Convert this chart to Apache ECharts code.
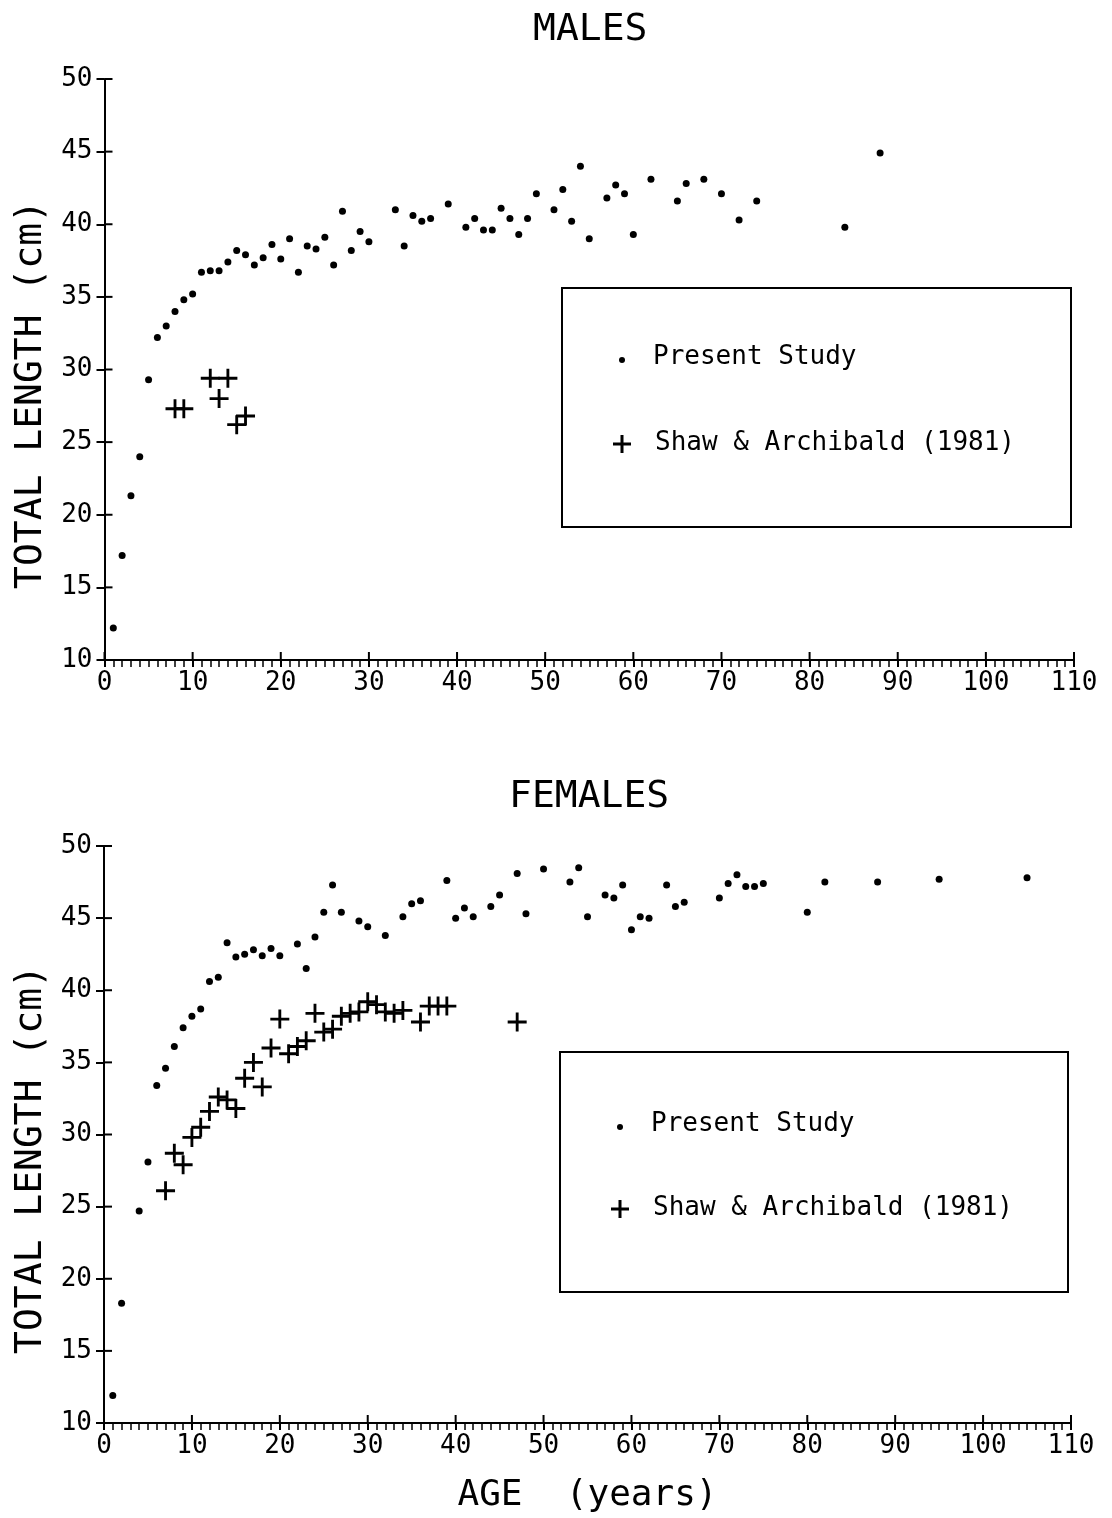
<!DOCTYPE html>
<html>
<head>
<meta charset="utf-8">
<script src="https://cdn.jsdelivr.net/npm/echarts@6/dist/echarts.min.js"></script>
<style>
html,body{margin:0;padding:0;background:#fff;}
#c{width:1112px;height:1518px;}
</style>
</head>
<body>
<div id="c"></div>
<script>
// ---- DATA (age in years, total length in cm) ----
var malesPresentAge = [1,2,3,4,5,6,7,8,9,10,11,12,13,14,15,16,17,18,19,20,21,22,23,24,25,26,27,28,29,30,33,34,35,36,37,39,41,42,43,44,45,46,47,48,49,51,52,53,54,55,57,58,59,60,62,65,66,68,70,72,74,84,88];
var malesPresentLen = [12.2,17.2,21.3,24.0,29.3,32.2,33.0,34.0,34.8,35.2,36.7,36.8,36.8,37.4,38.2,37.9,37.2,37.7,38.6,37.6,39.0,36.7,38.5,38.3,39.1,37.2,40.9,38.2,39.5,38.8,41.0,38.5,40.6,40.2,40.4,41.4,39.8,40.4,39.6,39.6,41.1,40.4,39.3,40.4,42.1,41.0,42.4,40.2,44.0,39.0,41.8,42.7,42.1,39.3,43.1,41.6,42.8,43.1,42.1,40.3,41.6,39.8,44.9];
var malesShawAge = [8,9,12,13,14,15,16];
var malesShawLen = [27.3,27.3,29.4,28.0,29.4,26.2,26.8];

var femalesPresentAge = [1,2,4,5,6,7,8,9,10,11,12,13,14,15,16,17,18,19,20,22,23,24,25,26,27,29,30,32,34,35,36,39,40,41,42,44,45,47,48,50,53,54,55,57,58,59,60,61,62,64,65,66,70,71,72,73,74,75,80,82,88,95,105];
var femalesPresentLen = [11.9,18.3,24.7,28.1,33.4,34.6,36.1,37.4,38.2,38.7,40.6,40.9,43.3,42.3,42.5,42.8,42.4,42.9,42.4,43.2,41.5,43.7,45.4,47.3,45.4,44.8,44.4,43.8,45.1,46.0,46.2,47.6,45.0,45.7,45.1,45.8,46.6,48.1,45.3,48.4,47.5,48.5,45.1,46.6,46.4,47.3,44.2,45.1,45.0,47.3,45.8,46.1,46.4,47.4,48.0,47.2,47.2,47.4,45.4,47.5,47.5,47.7,47.8];
var femalesShawAge = [7,8,9,10,11,12,13,14,15,16,17,18,19,20,21,22,23,24,25,26,27,28,29,30,31,32,33,34,36,37,38,39,47];
var femalesShawLen = [26.1,28.7,27.9,29.8,30.5,31.6,32.6,32.4,31.8,33.9,35.0,33.3,36.0,38.0,35.6,36.1,36.5,38.4,37.1,37.3,38.2,38.4,38.5,39.2,39.0,38.5,38.4,38.6,37.8,38.9,38.9,38.9,37.8];

// major tick values (ticks cross the axis lines in the original)
var xTickValues = [0,10,20,30,40,50,60,70,80,90,100,110];
var yTickValues = [10,15,20,25,30,35,40,45,50];

var panelTitles = ['MALES', 'FEMALES'];
var seriesNames = ['Present Study', 'Shaw & Archibald (1981)'];
var xAxisName = 'AGE  (years)';
var yAxisName = 'TOTAL LENGTH (cm)';

function pairs(a, b) { return a.map(function (v, i) { return [v, b[i]]; }); }

var FONT = 'DejaVu Sans Mono';
var PLUS = 'path://M8.5,0 H11.5 V8.5 H20 V11.5 H11.5 V20 H8.5 V11.5 H0 V8.5 H8.5 Z';
var X_MIN = 0, X_MAX = 110, Y_MIN = 10, Y_MAX = 50;

var grids = [
  {left: 104.5, top: 79, width: 969.5, height: 581},
  {left: 104, top: 846, width: 967, height: 577}
];

function mainX(g, showName) {
  return {
    gridIndex: g, type: 'value', min: X_MIN, max: X_MAX, interval: 10, position: 'bottom',
    name: showName ? xAxisName : '', nameLocation: 'middle', nameGap: 55,
    nameTextStyle: {fontFamily: FONT, fontSize: 36, color: '#000'},
    axisLine: {show: true, onZero: false, lineStyle: {color: '#000', width: 2}},
    axisTick: {show: true, inside: false, length: 7, lineStyle: {color: '#000', width: 2}},
    minorTick: {show: true, splitNumber: 10, length: 7, lineStyle: {color: '#000', width: 1.5}},
    splitLine: {show: false}, minorSplitLine: {show: false},
    axisLabel: {fontFamily: FONT, fontSize: 26, color: '#000', margin: 10}
  };
}
function mainY(g) {
  return {
    gridIndex: g, type: 'value', min: Y_MIN, max: Y_MAX, interval: 5, position: 'left',
    name: yAxisName, nameLocation: 'middle', nameGap: 41, nameRotate: 90,
    nameTextStyle: {fontFamily: FONT, fontSize: 38, color: '#000', padding: [0, 50, 0, 0]},
    axisLine: {show: true, onZero: false, lineStyle: {color: '#000', width: 2}},
    axisTick: {show: true, inside: false, length: 8, lineStyle: {color: '#000', width: 2}},
    splitLine: {show: false},
    axisLabel: {fontFamily: FONT, fontSize: 26, color: '#000', margin: 12}
  };
}

function dots(g, data) {
  return {type: 'scatter', name: seriesNames[0], xAxisIndex: g, yAxisIndex: g,
    data: data, symbol: 'circle', symbolSize: 7, itemStyle: {color: '#000', opacity: 1}, silent: true};
}
function crosses(g, data) {
  return {type: 'scatter', name: seriesNames[1], xAxisIndex: g, yAxisIndex: g,
    data: data, symbol: PLUS, symbolSize: 19, itemStyle: {color: '#000', opacity: 1}, silent: true};
}
// inner halves of the major ticks, placed through the axes' own scales
function innerTicks(g, isX) {
  var data = isX ? xTickValues.map(function (v) { return [v, Y_MIN]; })
                 : yTickValues.map(function (v) { return [X_MIN, v]; });
  return {
    type: 'custom', xAxisIndex: g, yAxisIndex: g, silent: true, clip: false, z: 3,
    data: data,
    renderItem: function (params, api) {
      var p = api.coord([api.value(0), api.value(1)]);
      var shape = isX ? {x1: p[0], y1: p[1], x2: p[0], y2: p[1] - 8}
                      : {x1: p[0], y1: p[1], x2: p[0] + 8, y2: p[1]};
      return {type: 'line', shape: shape, style: {stroke: '#000', lineWidth: 2}};
    }
  };
}

function plusPoints(cx, cy) {
  var a = 9, t = 1.5;
  return [[cx - t, cy - a], [cx + t, cy - a], [cx + t, cy - t], [cx + a, cy - t], [cx + a, cy + t],
          [cx + t, cy + t], [cx + t, cy + a], [cx - t, cy + a], [cx - t, cy + t], [cx - a, cy + t],
          [cx - a, cy - t], [cx - t, cy - t]];
}

function legendBox(x, y, w, h, dotX, dotY, plusY, textX) {
  return [
    {type: 'rect', shape: {x: x, y: y, width: w, height: h}, style: {fill: 'none', stroke: '#000', lineWidth: 2}},
    {type: 'circle', shape: {cx: dotX, cy: dotY, r: 3}, style: {fill: '#000'}},
    {type: 'text', x: textX, y: dotY - 3, style: {text: seriesNames[0], font: '26px "' + FONT + '"', fill: '#000', verticalAlign: 'middle', align: 'left'}},
    {type: 'polygon', shape: {points: plusPoints(dotX, plusY)}, style: {fill: '#000'}},
    {type: 'text', x: textX + 2, y: plusY - 1, style: {text: seriesNames[1], font: '26px "' + FONT + '"', fill: '#000', verticalAlign: 'middle', align: 'left'}}
  ];
}

var chart = echarts.init(document.getElementById('c'), null, {renderer: 'canvas'});
chart.setOption({
  backgroundColor: '#fff',
  animation: false,
  title: [
    {text: panelTitles[0], left: 528, top: 6, textStyle: {fontFamily: FONT, fontSize: 38, fontWeight: 'normal', color: '#000'}},
    {text: panelTitles[1], left: 504, top: 773, textStyle: {fontFamily: FONT, fontSize: 38, fontWeight: 'normal', color: '#000'}}
  ],
  grid: grids,
  xAxis: [mainX(0, false), mainX(1, true)],
  yAxis: [mainY(0), mainY(1)],
  series: [
    dots(0, pairs(malesPresentAge, malesPresentLen)),
    crosses(0, pairs(malesShawAge, malesShawLen)),
    dots(1, pairs(femalesPresentAge, femalesPresentLen)),
    crosses(1, pairs(femalesShawAge, femalesShawLen)),
    innerTicks(0, true), innerTicks(0, false),
    innerTicks(1, true), innerTicks(1, false)
  ],
  graphic: legendBox(562, 288, 509, 239, 622, 360, 444, 653)
    .concat(legendBox(560, 1052, 508, 240, 620, 1127, 1209, 651))
});
</script>
</body>
</html>
